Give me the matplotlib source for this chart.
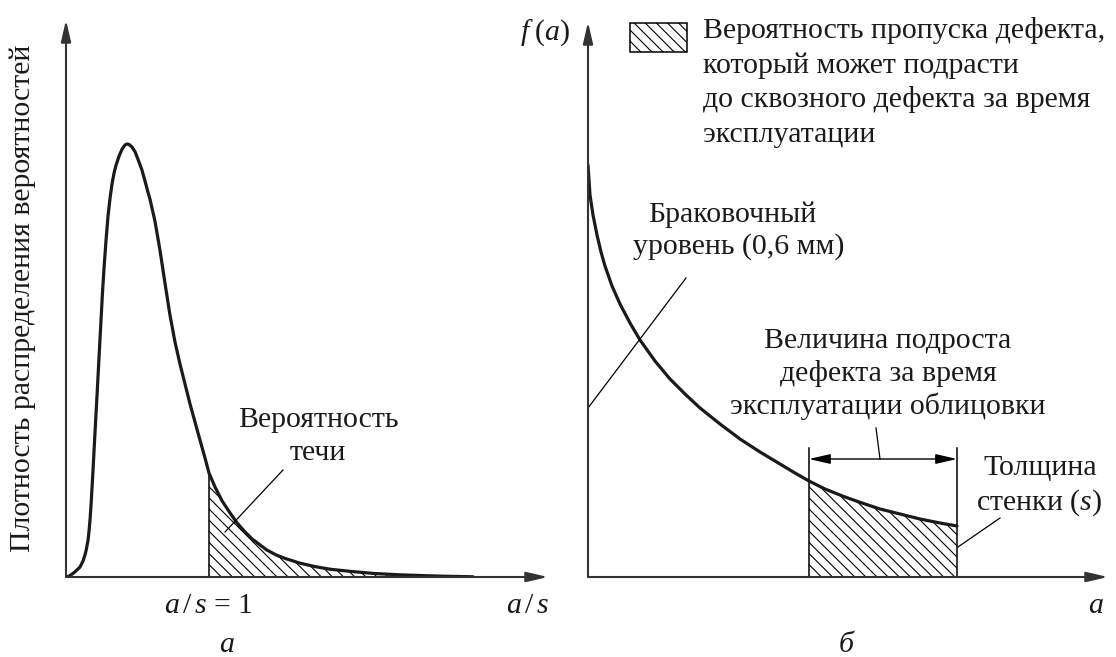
import matplotlib
matplotlib.use("Agg")
import matplotlib.pyplot as plt
from matplotlib.patches import Rectangle
import numpy as np

# ---------------- data ----------------
# Panel a: probability density vs a/s
left_x = [0.000, 0.028, 0.063, 0.098, 0.119, 0.133, 0.143, 0.154, 0.161, 0.168,
          0.175, 0.182, 0.189, 0.203, 0.217, 0.231, 0.245, 0.255, 0.266, 0.280,
          0.294, 0.308, 0.322, 0.336, 0.350, 0.371, 0.392, 0.413, 0.427, 0.441,
          0.462, 0.483, 0.503, 0.531, 0.552, 0.573, 0.587, 0.622, 0.657, 0.692,
          0.727, 0.762, 0.797, 0.832, 0.867, 0.902, 0.937, 0.972, 1.000, 1.042,
          1.091, 1.147, 1.196, 1.252, 1.301, 1.357, 1.406, 1.469, 1.531, 1.636,
          1.741, 1.846, 1.986, 2.161, 2.336, 2.615, 2.846]
left_y = [0.000, 0.003, 0.012, 0.023, 0.037, 0.051, 0.065, 0.085, 0.106, 0.132,
          0.166, 0.206, 0.247, 0.335, 0.420, 0.508, 0.594, 0.656, 0.714, 0.778,
          0.834, 0.875, 0.908, 0.933, 0.951, 0.972, 0.988, 0.998, 1.000, 0.999,
          0.993, 0.982, 0.965, 0.940, 0.915, 0.889, 0.873, 0.822, 0.755, 0.679,
          0.605, 0.543, 0.492, 0.446, 0.400, 0.358, 0.316, 0.275, 0.240, 0.208,
          0.176, 0.148, 0.125, 0.104, 0.088, 0.074, 0.062, 0.051, 0.043, 0.032,
          0.024, 0.018, 0.013, 0.008, 0.005, 0.002, 0.0005]
leak_threshold = 1.0          # a/s = 1

# Panel б: f(a)
right_x = [0.00, 0.02, 0.05, 0.09, 0.13, 0.17, 0.24, 0.32, 0.42, 0.52, 0.67, 0.82,
           0.97, 1.12, 1.32, 1.52, 1.72, 1.92, 2.07, 2.21, 2.37, 2.57, 2.74, 2.92,
           3.12, 3.32, 3.52, 3.69]
right_y = [4.12, 3.82, 3.62, 3.42, 3.25, 3.11, 2.91, 2.73, 2.54, 2.37, 2.16, 1.98,
           1.83, 1.69, 1.53, 1.38, 1.25, 1.13, 1.04, 0.96, 0.88, 0.80, 0.74, 0.68,
           0.63, 0.58, 0.54, 0.51]
reject_level = 2.21           # start of growth interval
wall_thickness = 3.69         # end of growth interval (wall thickness s)

# ---------------- style ----------------
W, H = 1116, 657
plt.rcParams['font.family'] = ['Liberation Serif', 'DejaVu Serif']
plt.rcParams['mathtext.fontset'] = 'custom'
plt.rcParams['mathtext.rm'] = 'Liberation Serif'
plt.rcParams['mathtext.it'] = 'Liberation Serif:italic'
plt.rcParams['hatch.linewidth'] = 0.8
TXT = '#1a1a1a'
FS = 21.5
HATCH = '\\\\\\'

def fx(px):
    return px / W

def fy(py):
    return 1 - py / H

fig = plt.figure(figsize=(W / 100, H / 100), dpi=100)
fig.patch.set_facecolor('white')

def make_axes(x0, x1, ytop, ybot):
    ax = fig.add_axes([fx(x0), fy(ybot), (x1 - x0) / W, (ybot - ytop) / H])
    ax.set_axis_off()
    arrow = dict(arrowstyle='-|>,head_length=1.3,head_width=0.3', lw=1.5,
                 color='#333333', mutation_scale=10, shrinkA=0, shrinkB=0)
    ax.annotate('', xy=(1, 0), xytext=(0, 0), xycoords='axes fraction',
                arrowprops=arrow, annotation_clip=False)
    ax.annotate('', xy=(0, 1), xytext=(0, 0), xycoords='axes fraction',
                arrowprops=arrow, annotation_clip=False)
    return ax

# ---------------- panel a ----------------
ax1 = make_axes(66, 548, 20, 577)
ax1.set_xlim(0, (548 - 66) / 143)
ax1.set_ylim(0, (577 - 20) / 433)
lx = np.array(left_x)
ly = np.array(left_y)
m = lx >= leak_threshold
ax1.fill_between(lx[m], 0, ly[m], facecolor='none', edgecolor='black',
                 hatch=HATCH, linewidth=0)
ax1.plot([leak_threshold, leak_threshold], [0, ly[m][0]], color='black', lw=1.1)
ax1.plot(lx, ly, color='#1a1a1a', lw=2.3, solid_capstyle='round',
         solid_joinstyle='round')
ax1.plot([1.112, 1.517], [0.104, 0.247], color='black', lw=0.9)

# ---------------- panel б ----------------
ax2 = make_axes(588, 1108, 22, 577)
ax2.set_xlim(0, 5.20)
ax2.set_ylim(0, 5.55)
rx = np.array(right_x)
ry = np.array(right_y)
m2 = (rx >= reject_level) & (rx <= wall_thickness)
ax2.fill_between(rx[m2], 0, ry[m2], facecolor='none', edgecolor='black',
                 hatch=HATCH, linewidth=0)
ax2.plot([reject_level, reject_level], [0, 1.29], color='black', lw=1.1)
ax2.plot([wall_thickness, wall_thickness], [0, 1.29], color='black', lw=1.1)
ax2.plot(rx, ry, color='#1a1a1a', lw=2.3, solid_capstyle='round',
         solid_joinstyle='round')
ax2.annotate('', xy=(reject_level, 1.18), xytext=(wall_thickness, 1.18),
             arrowprops=dict(arrowstyle='<|-|>,head_length=1.3,head_width=0.3',
                             lw=1.0, color='black', mutation_scale=10,
                             shrinkA=0, shrinkB=0))
ax2.plot([2.92, 2.88], [1.18, 1.49], color='black', lw=0.9)
ax2.plot([0.0, 0.98], [1.69, 2.99], color='black', lw=0.9)
ax2.plot([3.70, 4.12], [0.30, 0.59], color='black', lw=0.9)

# ---------------- legend box ----------------
fig.patches.append(Rectangle((fx(630), fy(52)), (687 - 630) / W, (52 - 23) / H,
                             transform=fig.transFigure, facecolor='white',
                             edgecolor='black', hatch=HATCH, lw=1.1))

def t(px, py, s, ha='center', va='baseline', **kw):
    fig.text(fx(px), fy(py), s, ha=ha, va=va, color=TXT,
             fontsize=kw.pop('fontsize', FS), **kw)

legend_lines = ['Вероятность пропуска дефекта,', 'который может подрасти',
                'до сквозного дефекта за время', 'эксплуатации']
for i, line in enumerate(legend_lines):
    t(703, 38 + 34.7 * i, line, ha='left')

t(732, 222, 'Браковочный')
t(739, 254, 'уровень (0,6 мм)')
t(318, 427, 'Вероятность')
t(318, 460, 'течи')
t(888, 348, 'Величина подроста')
t(888, 381, 'дефекта за время')
t(888, 414, 'эксплуатации облицовки')
t(1040, 475, 'Толщина')
t(1039, 510, 'стенки ($s$)')

t(208, 613, '$a\\,/\\,s$ = 1')
t(528, 613, '$a\\,/\\,s$')
t(1096, 613, '$a$')
t(545, 40, '$f\\;$($a$)')
t(227, 652, 'а', style='italic')
t(846, 652, 'б', style='italic')

fig.text(fx(23), fy(298), 'Плотность распределения вероятностей', rotation=90,
         ha='center', va='center', color=TXT, fontsize=FS)

fig.savefig('out.png', dpi=100, facecolor='white')
